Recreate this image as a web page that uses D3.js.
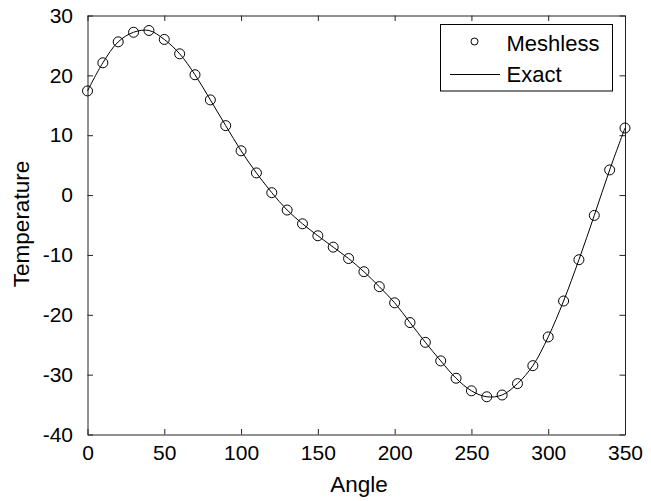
<html>

<head>
    <meta charset="utf-8">
    <style>
        body {
            margin: 0;
            background: white;
            font-family: "Liberation Sans", Arial, Helvetica, sans-serif;
        }
        svg {
            display: block;
        }
    </style>
    <script src="https://cdn.jsdelivr.net/npm/d3@7"></script>
</head>
<body>
    <svg id="Chart"></svg>
</body>
<script>

  // angles where the meshless solution was sampled
  let angles = [0, 10, 20, 30, 40, 50, 60, 70, 80, 90, 100, 110, 120, 130, 140, 150, 160, 170,
                180, 190, 200, 210, 220, 230, 240, 250, 260, 270, 280, 290, 300, 310, 320, 330, 340, 350]

  // meshless temperatures
  let meshless = [17.4, 22.1, 25.6, 27.2, 27.5, 26.0, 23.6, 20.1, 15.9, 11.6, 7.4, 3.7, 0.4, -2.5, -4.8, -6.8, -8.7, -10.6,
                  -12.8, -15.3, -18.0, -21.3, -24.6, -27.7, -30.6, -32.7, -33.7, -33.4, -31.5, -28.5, -23.7, -17.7, -10.8, -3.4, 4.2, 11.2]

  // exact solution, drawn as a smooth line through the same angles
  let exact = meshless.slice()

  let xTicks = [0, 50, 100, 150, 200, 250, 300, 350]
  let yTicks = [-40, -30, -20, -10, 0, 10, 20, 30]

  let legendLabels = ["Meshless", "Exact"]

  function getConfig() {
    let width = 651
    let height = 501
    let margin = { top: 15.5, bottom: 66.5, left: 87.5, right: 26 }
    let bodyWidth = width - margin.left - margin.right
    let bodyHeight = height - margin.top - margin.bottom
    let container = d3.select("#Chart")
        .attr("width", width)
        .attr("height", height)
    return { width, height, margin, bodyWidth, bodyHeight, container }
  }

  function getScales(config) {
    let xScale = d3.scaleLinear()
        .domain([0, 350])
        .range([config.margin.left, config.margin.left + config.bodyWidth])
    let yScale = d3.scaleLinear()
        .domain([-40, 30])
        .range([config.margin.top + config.bodyHeight, config.margin.top])
    return { xScale, yScale }
  }

  function drawAxes(scales, config) {
    let { xScale, yScale } = scales
    let { container, margin, bodyWidth, bodyHeight } = config
    let tickLen = 5.5
    let axisColor = "#222"
    let x0 = margin.left, x1 = margin.left + bodyWidth
    let y0 = margin.top, y1 = margin.top + bodyHeight
    // plain hyphen for negatives, like the original
    let fmt = d => String(d)

    // bottom axis, ticks pointing in
    let bottom = container.append("g")
        .attr("transform", `translate(0,${y1})`)
        .call(d3.axisBottom(xScale).tickValues(xTicks).tickFormat(fmt).tickSizeInner(-tickLen).tickSizeOuter(0).tickPadding(11))
    bottom.selectAll("text").style("font-size", "21px").attr("fill", "black")

    // left axis
    let left = container.append("g")
        .attr("transform", `translate(${x0},0)`)
        .call(d3.axisLeft(yScale).tickValues(yTicks).tickFormat(fmt).tickSizeInner(-tickLen).tickSizeOuter(0).tickPadding(14.5))
    left.selectAll("text").style("font-size", "21px").attr("fill", "black")

    // mirrored top and right axes without labels
    container.append("g")
        .attr("transform", `translate(0,${y0})`)
        .call(d3.axisTop(xScale).tickValues(xTicks).tickSizeInner(-tickLen).tickSizeOuter(0).tickFormat(""))
    container.append("g")
        .attr("transform", `translate(${x1},0)`)
        .call(d3.axisRight(yScale).tickValues(yTicks).tickSizeInner(-tickLen).tickSizeOuter(0).tickFormat(""))

    container.selectAll(".domain, .tick line")
        .attr("stroke", axisColor)
        .attr("stroke-width", 1)
    container.selectAll(".tick text").style("font-family", "'Liberation Sans', Arial, sans-serif")

    container.append("text")
        .attr("x", 359)
        .attr("y", 492)
        .attr("text-anchor", "middle")
        .style("font-size", "22.5px")
        .text("Angle")

    container.append("text")
        .attr("transform", "translate(28.5,224) rotate(-90)")
        .attr("text-anchor", "middle")
        .style("font-size", "22.5px")
        .text("Temperature")
  }

  function drawData(scales, config) {
    let { xScale, yScale } = scales
    let { container } = config

    let line = d3.line()
        .x((d, i) => xScale(angles[i]))
        .y(d => yScale(d))
        .curve(d3.curveCatmullRom)

    container.append("path")
        .datum(exact)
        .attr("d", line)
        .attr("fill", "none")
        .attr("stroke", "black")
        .attr("stroke-width", 1)

    container.append("g").selectAll("circle")
        .data(meshless)
        .enter().append("circle")
        .attr("cx", (d, i) => xScale(angles[i]))
        .attr("cy", d => yScale(d))
        .attr("r", 5)
        .attr("fill", "none")
        .attr("stroke", "black")
        .attr("stroke-width", 1)
  }

  function drawLegend(config) {
    let { container } = config
    let legend = container.append("g")

    legend.append("rect")
        .attr("x", 440.5)
        .attr("y", 24.5)
        .attr("width", 172)
        .attr("height", 66.5)
        .attr("fill", "white")
        .attr("stroke", "black")
        .attr("stroke-width", 1)

    legend.append("circle")
        .attr("cx", 474.5)
        .attr("cy", 41.5)
        .attr("r", 3.5)
        .attr("fill", "none")
        .attr("stroke", "black")

    legend.append("line")
        .attr("x1", 450)
        .attr("x2", 500)
        .attr("y1", 74.5)
        .attr("y2", 74.5)
        .attr("stroke", "black")

    legend.selectAll("text")
        .data(legendLabels)
        .enter().append("text")
        .attr("x", 506.5)
        .attr("y", (d, i) => i == 0 ? 51 : 82)
        .style("font-size", "22px")
        .text(d => d)
  }

  let config = getConfig()
  let scales = getScales(config)
  drawAxes(scales, config)
  drawData(scales, config)
  drawLegend(config)

</script>

</html>
